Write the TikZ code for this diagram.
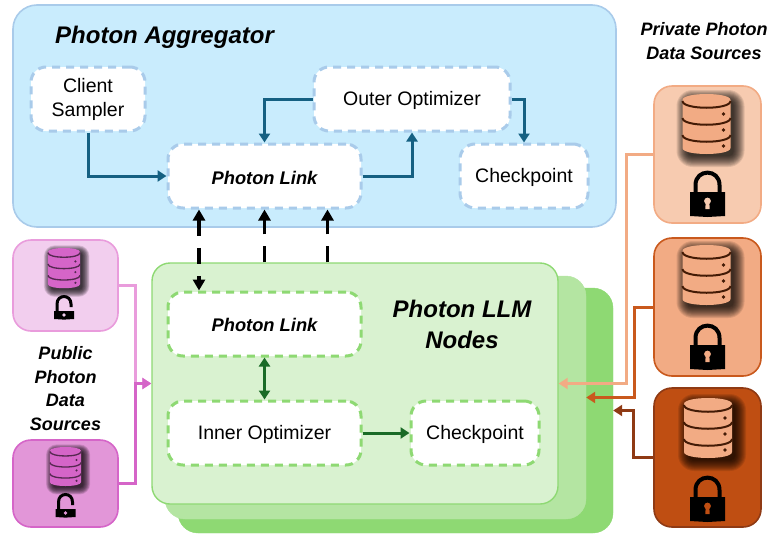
\documentclass[tikz,border=0pt]{standalone}
\usepackage{fontspec}
\setmainfont{Liberation Sans}
\usetikzlibrary{arrows.meta,positioning,calc}
\definecolor{blueFill}{HTML}{C9ECFD}
\definecolor{blueEdge}{HTML}{A9CBEA}
\definecolor{blueLine}{HTML}{156082}
\definecolor{grA}{HTML}{D9F2D0}
\definecolor{grB}{HTML}{B4E5A2}
\definecolor{grC}{HTML}{8ED973}
\definecolor{grDark}{HTML}{1A6B27}
\definecolor{peachA}{HTML}{F7CBB0}
\definecolor{peachB}{HTML}{F2AB84}
\definecolor{peachC}{HTML}{BF4E12}
\definecolor{peachEdgeB}{HTML}{C9591D}
\definecolor{peachEdgeC}{HTML}{8F3A14}
\definecolor{pinkA}{HTML}{F2CEEE}
\definecolor{pinkB}{HTML}{E296D8}
\definecolor{pinkEdgeA}{HTML}{E99CDC}
\definecolor{pinkEdgeB}{HTML}{D565C8}
\newcommand{\dn}[2][-6.8pt]{\raisebox{#1}[0pt][0pt]{#2}}
\tikzset{
  region/.style={draw,rounded corners=#1,inner sep=0pt},
  dashbox/.style={draw=#1,fill=white,line width=3pt,rounded corners=15pt,inner sep=0pt,
    dash pattern=on 8pt off 6pt,align=center,font=\fontsize{19.5}{24}\selectfont},
  srcbox/.style={line width=1.6pt,rounded corners=18pt,inner sep=0pt},
  conn/.style={line width=3pt,-{Triangle[length=9pt,width=11pt]}},
  ttl/.style={font=\fontsize{24}{31}\selectfont\bfseries\itshape,align=center,inner sep=0pt},
  sub/.style={font=\fontsize{18}{23.7}\selectfont\bfseries\itshape,align=center,inner sep=0pt},
  link/.style={font=\fontsize{18.3}{24}\selectfont\bfseries\itshape},
  blk/.style={line width=3.6pt,dash pattern=on 16pt off 12pt,black},
}
% database icon: #1 centre x, #2 top y, #3 scale, #4 fill, #5 dark
\newcommand{\dbicon}[5]{%
\begin{scope}[shift={(#1,#2)},scale=#3]
  \foreach \r in {1,...,12}{
    \pgfmathsetmacro{\rc}{(3+1.1*\r)*#3}
    \fill[black,opacity=0.10,rounded corners=\rc pt] (-24-\r+6,2-\r+6) rectangle (24+\r+2,60+\r+1);
  }
  \fill[#4] (-24,6) -- (-24,54) .. controls (-24,62) and (24,62) .. (24,54) -- (24,6)
     .. controls (24,-2) and (-24,-2) .. (-24,6) -- cycle;
  \draw[#5,line width=#3*2pt] (-24,7) .. controls (-24,16) and (24,16) .. (24,7);
  \draw[#5,line width=#3*2pt] (-24,24) .. controls (-24,33) and (24,33) .. (24,24);
  \draw[#5,line width=#3*2pt] (-24,41) .. controls (-24,50) and (24,50) .. (24,41);
  \fill[#5] (17,20) circle[radius=1.8pt] (17,36) circle[radius=1.8pt] (17,52) circle[radius=1.8pt];
\end{scope}}
% closed lock: #1 cx, #2 top, #3 scale, #4 keyhole colour
\newcommand{\lockclosed}[4]{%
\begin{scope}[shift={(#1,#2)},scale=#3]
  \draw[black,line width=#3*4pt] (-12,22) -- (-12,13) .. controls (-12,-3.5) and (12,-3.5) .. (12,13) -- (12,22);
  \fill[black] (-17.5,20) -- (17.5,20) -- (17.5,44) -- (0,45) -- (-17.5,44) -- cycle;
  \fill[#4] (0,29) circle[radius=3.4pt];
  \fill[#4] (-1.8,30) -- (1.8,30) -- (2.2,37) -- (-2.2,37) -- cycle;
\end{scope}}
% open lock
\newcommand{\lockopen}[4]{%
\begin{scope}[shift={(#1,#2)},scale=#3]
  \draw[black,line width=#3*3pt] (-7,15) -- (-7,7) .. controls (-7,-3) and (7,-3) .. (7,7) -- (7,10);
  \fill[black] (-10,14) -- (10,14) -- (10,22) -- (0,22.6) -- (-10,22) -- cycle;
  \fill[#4] (0,18) circle[radius=1.8pt];
\end{scope}}
\begin{document}
\begin{tikzpicture}[x=1pt,y=-1pt]
\useasboundingbox (0,0) rectangle (775,533);

% aggregator panel
\node[region=24pt,draw=blueEdge,fill=blueFill,line width=1.6pt,minimum width=603pt,minimum height=222pt] (agg) at (314.5,116) {};
\node[ttl,anchor=west] (aggt) at (55,37.5) {Photon Aggregator};

\node[dashbox=blueEdge,minimum width=114pt,minimum height=64pt] (cs) at (88,99) {\dn[-6pt]{\begin{tabular}{@{}c@{}}Client\\Sampler\end{tabular}}};
\node[dashbox=blueEdge,minimum width=196pt,minimum height=64pt] (oo) at (412,99) {\dn{Outer Optimizer}};
\node[dashbox=blueEdge,minimum width=193pt,minimum height=64pt,link] (pl) at (264.5,176) {\dn[-8.5pt]{Photon Link}};
\node[dashbox=blueEdge,minimum width=128pt,minimum height=64pt] (cpa) at (524,176) {\dn{Checkpoint}};

\draw[conn,blueLine] (cs.south) |- (pl.west);
\draw[conn,blueLine] (pl.east) -| (oo.south);
\draw[conn,blueLine] (oo.west) -| (pl.north);
\draw[conn,blueLine] (oo.east) -| (cpa.north);

% LLM stack
\node[region=20pt,fill=grC,draw=grC,minimum width=435pt,minimum height=245pt] (back) at (395.5,410.5) {};
\node[region=20pt,fill=grB,draw=grB,minimum width=421pt,minimum height=243pt] (mid) at (375.5,397.5) {};
\node[region=18pt,fill=grA,draw=grC,line width=1.4pt,minimum width=406pt,minimum height=241pt] (main) at (355,383.5) {};
\node[ttl,anchor=center] (llm) at (462,324.5) {Photon LLM\\Nodes};

\node[dashbox=grC,minimum width=193pt,minimum height=64pt,link] (lk) at (264.5,324) {\dn[-7.2pt]{Photon Link}};
\node[dashbox=grC,minimum width=193pt,minimum height=64pt] (io) at (264.5,433) {\dn{Inner Optimizer}};
\node[dashbox=grC,minimum width=128pt,minimum height=64pt] (cpb) at (475,433) {\dn{Checkpoint}};

\draw[grDark,line width=3pt,{Triangle[length=9pt,width=11pt]}-{Triangle[length=9pt,width=11pt]}] (lk.south) -- (io.north);
\draw[conn,grDark] (io.east) -- (cpb.west);

% dashed black
\draw[blk,{Triangle[length=11pt,width=12pt]}-{Triangle[length=11pt,width=12pt]}] ([xshift=-65.5pt]pl.south) -- ([xshift=-65.5pt]lk.north);
\draw[blk,-{Triangle[length=11pt,width=12pt]}] (pl.south |- main.north) -- (pl.south);
\draw[blk,-{Triangle[length=11pt,width=12pt]}] ([xshift=63pt]pl.south |- main.north) -- ([xshift=63pt]pl.south);

% private sources
\node[srcbox,fill=peachA,draw=peachB,minimum width=107pt,minimum height=137pt] (pa) at (707.5,154.5) {};
\node[srcbox,fill=peachB,draw=peachEdgeB,minimum width=107pt,minimum height=138pt] (pb) at (707.5,307) {};
\node[srcbox,fill=peachC,draw=peachEdgeC,minimum width=107pt,minimum height=139pt] (pc) at (707.5,457.5) {};
\dbicon{706.5}{94}{1}{peachB}{black!65!peachC}
\dbicon{706.5}{245}{1}{peachB}{black!65!peachC}
\dbicon{708}{398}{1}{peachB}{black!65!peachC}
\lockclosed{707.5}{172}{1}{peachA}
\lockclosed{707.5}{325}{1}{peachB}
\lockclosed{707.5}{477}{1}{peachC}
\node[sub] (privt) at (704,41) {Private Photon\\Data Sources};

\draw[conn,peachB] (pa.west) -- ++(-27,0) |- (main.east);
\draw[conn,peachEdgeB] (pb.west) -- ++(-19,0) |- (mid.east);
\draw[conn,peachEdgeC] (pc.west) -- ++(-20,0) |- (back.east);

% public sources
\node[srcbox,fill=pinkA,draw=pinkEdgeA,minimum width=105pt,minimum height=91pt] (ua) at (65.5,285.5) {};
\node[srcbox,fill=pinkB,draw=pinkEdgeB,minimum width=105pt,minimum height=87pt] (ub) at (65.5,483.5) {};
\dbicon{64}{248}{0.67}{pinkEdgeB}{black!60!pinkEdgeB}
\dbicon{65.5}{447}{0.65}{pinkEdgeB}{black!60!pinkEdgeB}
\lockopen{64}{297}{1}{pinkA}
\lockopen{65.5}{495}{1}{pinkB}
\node[sub] (pubt) at (65.5,388.5) {Public\\Photon\\Data\\Sources};

\draw[conn,pinkEdgeA] (ua.east) -- ++(17,0) |- (main.west);
\draw[conn,pinkEdgeB] (ub.east) -- ++(17,0) |- (main.west);
\end{tikzpicture}
\end{document}
